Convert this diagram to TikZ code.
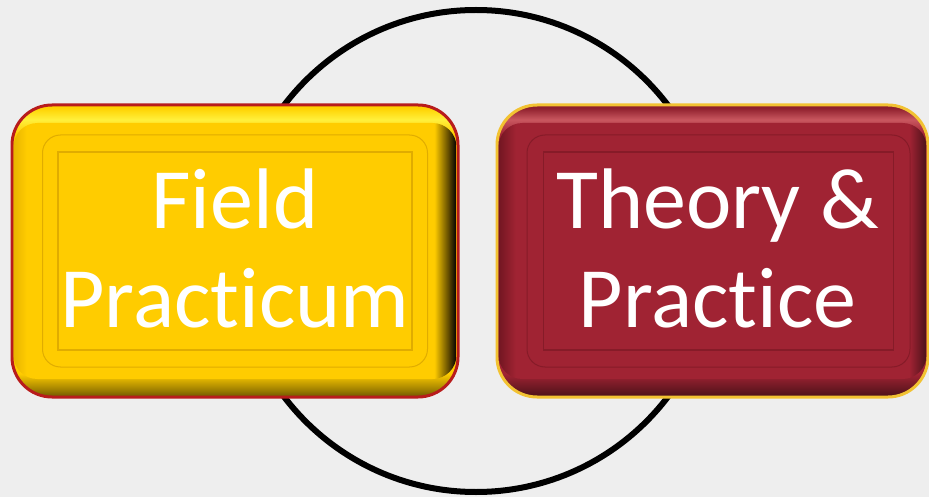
\documentclass[tikz,border=0pt]{standalone}
\usepackage{fontspec}
\setmainfont{Carlito}[Ligatures=NoCommon]
\usepackage{xcolor}
\usepackage{tikz}
\usetikzlibrary{positioning}

\definecolor{canvas}{HTML}{EEEEEE}
\definecolor{fieldmain}{HTML}{FFCC00}
\definecolor{fieldhi}{HTML}{FFF03C}
\definecolor{fieldtop}{HTML}{FFD200}
\definecolor{fieldbot}{HTML}{A88600}
\definecolor{fielddark}{HTML}{6E5500}
\definecolor{fieldleft}{HTML}{E8B400}
\definecolor{fieldshade}{HTML}{4A3800}
\definecolor{fieldline}{HTML}{B81C1C}
\definecolor{fieldrim}{HTML}{E0AC00}
\definecolor{theorymain}{HTML}{A02333}
\definecolor{theoryhi}{HTML}{C9575F}
\definecolor{theorytop}{HTML}{8E1F2C}
\definecolor{theorybot}{HTML}{6A1822}
\definecolor{theorydark}{HTML}{4A1119}
\definecolor{theoryleft}{HTML}{721622}
\definecolor{theoryline}{HTML}{F2C232}
\definecolor{theoryrim}{HTML}{861B28}

\pgfdeclareverticalshading{fieldvert}{100bp}{color(0bp)=(fielddark); color(25bp)=(fielddark); color(26.5bp)=(fieldbot); color(29bp)=(fieldmain); color(70bp)=(fieldmain); color(72.5bp)=(fieldhi); color(74.5bp)=(fieldtop); color(100bp)=(fieldtop)}
\pgfdeclarehorizontalshading{fieldhorz}{100bp}{color(0bp)=(fieldleft); color(25bp)=(fieldleft); color(26.5bp)=(fieldmain); color(72.5bp)=(fieldmain); color(74.3bp)=(fieldshade); color(75bp)=(black); color(100bp)=(black)}
\pgfdeclareverticalshading{theoryvert}{100bp}{color(0bp)=(theorydark); color(25bp)=(theorydark); color(26.5bp)=(theorybot); color(29bp)=(theorymain); color(70bp)=(theorymain); color(72.5bp)=(theoryhi); color(74.5bp)=(theorytop); color(100bp)=(theorytop)}
\pgfdeclarehorizontalshading{theoryhorz}{100bp}{color(0bp)=(theoryleft); color(25bp)=(theoryleft); color(27bp)=(theorymain); color(73bp)=(theorymain); color(75bp)=(theorydark); color(100bp)=(theorydark)}

\tikzstyle{box} = [rectangle, rounded corners=40pt, minimum height=292pt, inner sep=0pt, outer sep=0pt, line width=3pt]
\tikzstyle{side} = [rectangle, rounded corners=24pt, minimum height=256pt, inner sep=0pt, outer sep=0pt]
\tikzstyle{rim} = [rectangle, rounded corners=18pt, minimum height=232pt, inner sep=0pt, line width=1pt]
\tikzstyle{inner} = [rectangle, minimum height=198pt, inner sep=0pt, line width=1.2pt]
\tikzstyle{label} = [text=white, align=center, inner sep=0pt, font=\fontsize{86pt}{99pt}\selectfont]

\begin{document}
\begin{tikzpicture}[x=1pt, y=-1pt]
    \fill [canvas] (0,0) rectangle (929,497);
    \useasboundingbox (0,0) rectangle (929,497);

    % Cycle behind the two boxes
    \node [draw, circle, line width=6pt, minimum size=482pt, inner sep=0pt] (cycle) at (476,251) {};

    % Field practicum
    \node [box, draw=fieldline, minimum width=446pt, shading=fieldvert] (field) at (235,251) {};
    \node [side, minimum width=443pt, shading=fieldhorz] (fieldside) at (field.center) {};
    \node [rim, minimum width=385pt, fill=fieldmain, draw=fieldrim] (fieldrim) at (field.center) {};
    \node [inner, minimum width=354pt, fill=fieldmain, draw=fieldrim] (fieldinner) at (field.center) {};
    \node [label] (fieldlabel) at ([yshift=3pt]field.center) {Field\\Practicum};

    % Theory & practice
    \node [box, draw=theoryline, minimum width=431pt, shading=theoryvert, right=39pt of field] (theory) {};
    \node [side, minimum width=428pt, shading=theoryhorz] (theoryside) at (theory.center) {};
    \node [rim, minimum width=383pt, fill=theorymain, draw=theoryrim] (theoryrim) at ([xshift=6pt]theory.center) {};
    \node [inner, minimum width=350pt, fill=theorymain, draw=theoryrim] (theoryinner) at ([xshift=6pt]theory.center) {};
    \node [label] (theorylabel) at ([xshift=5pt, yshift=3pt]theory.center) {Theory \&\\Practice};
\end{tikzpicture}
\end{document}
